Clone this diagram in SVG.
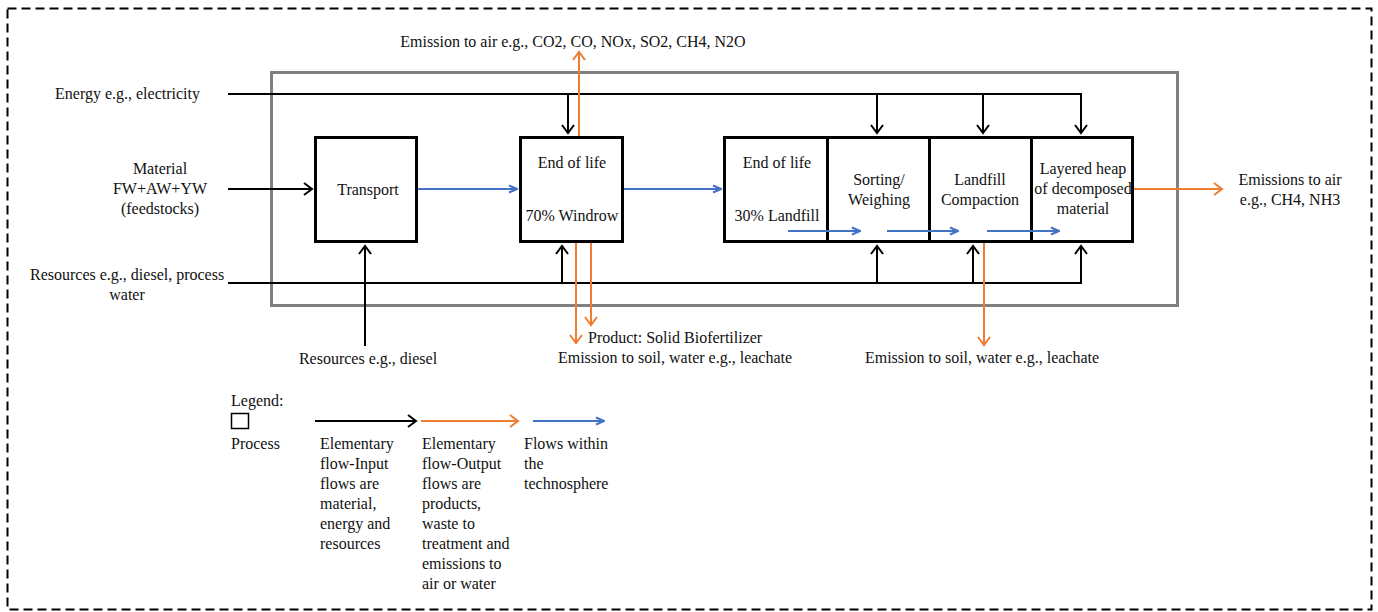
<svg xmlns="http://www.w3.org/2000/svg" width="1378" height="612" viewBox="0 0 1378 612">
<style>
text{font-family:"Liberation Serif","Times New Roman",serif;font-size:16px;fill:#111}
.c{text-anchor:middle}
.box{fill:#fff;stroke:#000;stroke-width:3}
.blk{stroke:#000;stroke-width:2;fill:none}
.org{stroke:#ED7D31;stroke-width:2;fill:none}
.blu{stroke:#4472C4;stroke-width:2;fill:none}
</style>
<defs>
<marker id="ab" markerUnits="userSpaceOnUse" markerWidth="12" markerHeight="14" refX="9" refY="7" orient="auto">
<path d="M1,1 L9,7 L1,13" fill="none" stroke="#000" stroke-width="2"/>
</marker>
<marker id="ao" markerUnits="userSpaceOnUse" markerWidth="12" markerHeight="14" refX="9" refY="7" orient="auto">
<path d="M1,1 L9,7 L1,13" fill="none" stroke="#ED7D31" stroke-width="2"/>
</marker>
<marker id="au" markerUnits="userSpaceOnUse" markerWidth="10" markerHeight="10" refX="9" refY="5" orient="auto">
<path d="M1,1.5 L9,5 L1,8.5" fill="none" stroke="#4472C4" stroke-width="2"/>
</marker>
</defs>
<rect x="0" y="0" width="1378" height="612" fill="#fff"/>
<rect id="frame" x="7.5" y="8.5" width="1364" height="601" fill="none" stroke="#000" stroke-width="2" stroke-dasharray="9,5"/>
<rect id="system" x="271.5" y="72.5" width="906" height="233" fill="none" stroke="#808080" stroke-width="3"/>

<g id="connectors">
<path class="blk" d="M228,94 H1081 V133" marker-end="url(#ab)"/>
<path class="blk" d="M568,94 V133" marker-end="url(#ab)"/>
<path class="blk" d="M877,94 V133" marker-end="url(#ab)"/>
<path class="blk" d="M983,94 V133" marker-end="url(#ab)"/>
<path class="blk" d="M228,189 H312" marker-end="url(#ab)"/>
<path class="blk" d="M228,283 H1081 V246" marker-end="url(#ab)"/>
<path class="blk" d="M562,283 V246" marker-end="url(#ab)"/>
<path class="blk" d="M877,283 V246" marker-end="url(#ab)"/>
<path class="blk" d="M973,283 V246" marker-end="url(#ab)"/>
<path class="blk" d="M365,346 V246" marker-end="url(#ab)"/>
<path class="blu" d="M417,189 H517" marker-end="url(#au)"/>
<path class="blu" d="M623,189 H721" marker-end="url(#au)"/>
<path class="org" d="M579,137 V52" marker-end="url(#ao)"/>
<path class="org" d="M576,243 V343" marker-end="url(#ao)"/>
<path class="org" d="M591,243 V325" marker-end="url(#ao)"/>
<path class="org" d="M984,243 V345" marker-end="url(#ao)"/>
<path class="org" d="M1133,189 H1222" marker-end="url(#ao)"/>
</g>

<g id="transport">
<rect class="box" x="315.5" y="137.5" width="101" height="104"/>
<text class="c" x="368" y="195">Transport</text>
</g>
<g id="windrow">
<rect class="box" x="520.5" y="137.5" width="102" height="104"/>
<text class="c" x="572" y="168">End of life</text>
<text class="c" x="572" y="221">70% Windrow</text>
</g>
<g id="landfill">
<rect class="box" x="724.5" y="137.5" width="103" height="104"/>
<text class="c" x="777" y="168">End of life</text>
<text class="c" x="777" y="221">30% Landfill</text>
</g>
<g id="sorting">
<rect class="box" x="827.5" y="137.5" width="102" height="104"/>
<text class="c" x="879" y="185">Sorting/</text>
<text class="c" x="879" y="205">Weighing</text>
</g>
<g id="compaction">
<rect class="box" x="929.5" y="137.5" width="102" height="104"/>
<text class="c" x="980" y="185">Landfill</text>
<text class="c" x="980" y="205">Compaction</text>
</g>
<g id="heap">
<rect class="box" x="1031.5" y="137.5" width="101" height="104"/>
<text class="c" x="1083" y="174">Layered heap</text>
<text class="c" x="1083" y="194">of decomposed</text>
<text class="c" x="1083" y="214">material</text>
</g>
<g id="inner-flows">
<path class="blu" d="M788,231 H860" marker-end="url(#au)"/>
<path class="blu" d="M887,231 H958" marker-end="url(#au)"/>
<path class="blu" d="M987,231 H1059" marker-end="url(#au)"/>
</g>

<g id="labels">
<text class="c" x="573" y="47">Emission to air e.g., CO2, CO, NOx, SO2, CH4, N2O</text>
<text x="55" y="99">Energy e.g., electricity</text>
<text class="c" x="160" y="174">Material</text>
<text class="c" x="160" y="194">FW+AW+YW</text>
<text class="c" x="160" y="214">(feedstocks)</text>
<text x="30" y="280">Resources e.g., diesel, process</text>
<text class="c" x="127" y="300">water</text>
<text class="c" x="368" y="364">Resources e.g., diesel</text>
<text x="588" y="343">Product: Solid Biofertilizer</text>
<text class="c" x="675" y="363">Emission to soil, water e.g., leachate</text>
<text class="c" x="982" y="363">Emission to soil, water e.g., leachate</text>
<text class="c" x="1290" y="185">Emissions to air</text>
<text class="c" x="1290" y="205">e.g., CH4, NH3</text>
</g>

<g id="legend">
<text x="231" y="406">Legend:</text>
<rect x="231.5" y="413.5" width="17" height="15" fill="none" stroke="#000" stroke-width="1.5"/>
<text x="231" y="449">Process</text>
<path class="blk" d="M315,421 H416" marker-end="url(#ab)"/>
<path class="org" d="M421,421 H518" marker-end="url(#ao)"/>
<path class="blu" d="M533,421 H604" marker-end="url(#au)"/>
<text x="320" y="449">Elementary</text>
<text x="320" y="469">flow-Input</text>
<text x="320" y="489">flows are</text>
<text x="320" y="509">material,</text>
<text x="320" y="529">energy and</text>
<text x="320" y="549">resources</text>
<text x="422" y="449">Elementary</text>
<text x="422" y="469">flow-Output</text>
<text x="422" y="489">flows are</text>
<text x="422" y="509">products,</text>
<text x="422" y="529">waste to</text>
<text x="422" y="549">treatment and</text>
<text x="422" y="569">emissions to</text>
<text x="422" y="589">air or water</text>
<text x="524" y="449">Flows within</text>
<text x="524" y="469">the</text>
<text x="524" y="489">technosphere</text>
</g>
</svg>
